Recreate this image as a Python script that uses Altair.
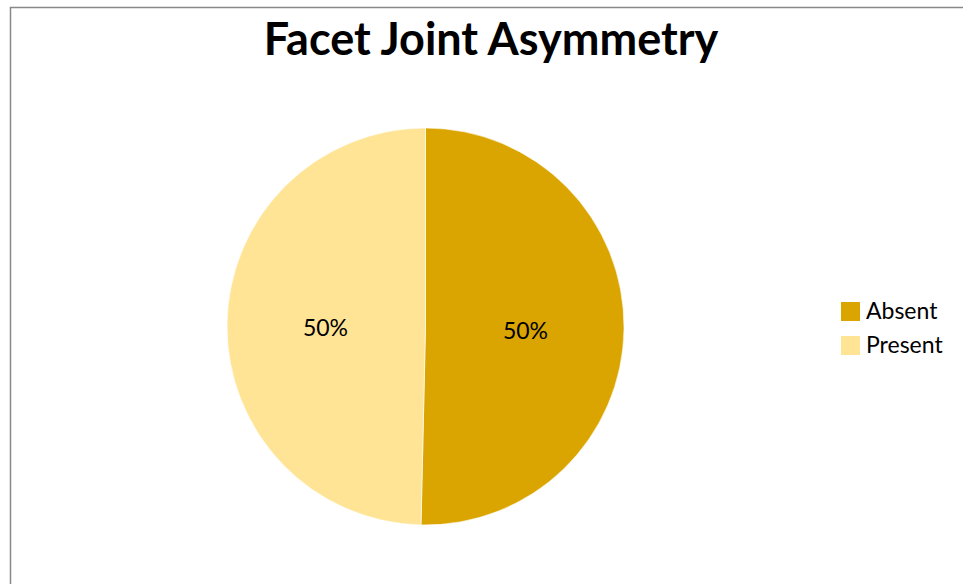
import altair as alt
import pandas as pd

categories = ["Absent", "Present"]
counts = [70, 69]
colors = ["#DAA500", "#FFE496"]
title_text = "Facet Joint Asymmetry"

total = sum(counts)
df = pd.DataFrame({
    "category": categories,
    "count": counts,
    "order": list(range(len(categories))),
    "label": [f"{round(c / total * 100)}%" for c in counts],
})

W, H = 953, 577
cx, cy = 415.5, 319.5
R = 198.5

border = alt.Chart(pd.DataFrame({"b": [0]})).mark_rect(
    fill="white", stroke="#888888", strokeWidth=1.5
).encode(
    x=alt.value(0.5), x2=alt.value(W + 20), y=alt.value(0.5), y2=alt.value(H + 20)
)

base = alt.Chart(df).encode(
    theta=alt.Theta("count:Q", stack=True),
    order=alt.Order("order:Q"),
)

pie = base.mark_arc(outerRadius=R, stroke="white", strokeWidth=0.6).encode(
    x=alt.value(cx),
    y=alt.value(cy),
    color=alt.Color(
        "category:N",
        scale=alt.Scale(domain=categories, range=colors),
        legend=alt.Legend(
            title=None,
            orient="none",
            legendX=829,
            legendY=293,
            symbolType="square",
            symbolSize=361,
            symbolStrokeWidth=0,
            symbolOpacity=1,
            labelFontSize=23,
            labelFont="Lato",
            labelColor="#000000",
            rowPadding=10,
            labelOffset=4,
        ),
    ),
)

labels = base.mark_text(radius=100, font="Lato", fontSize=23, color="#000000", dy=4).encode(
    x=alt.value(cx),
    y=alt.value(cy),
    text="label:N",
)

title = alt.Chart(pd.DataFrame({"t": [title_text]})).mark_text(
    font="Lato", fontSize=45, fontWeight="bold", color="#000000", baseline="alphabetic"
).encode(x=alt.value(481), y=alt.value(48), text="t:N")

chart = (
    alt.layer(border, pie, labels, title)
    .properties(
        width=W,
        height=H,
        autosize=alt.AutoSizeParams(type="none"),
        padding={"left": 10, "top": 7, "right": 0, "bottom": 0},
    )
    .configure_view(strokeWidth=0)
    .configure(background="white")
)

chart.save("out.html", embed_options={"renderer": "svg", "actions": False})
